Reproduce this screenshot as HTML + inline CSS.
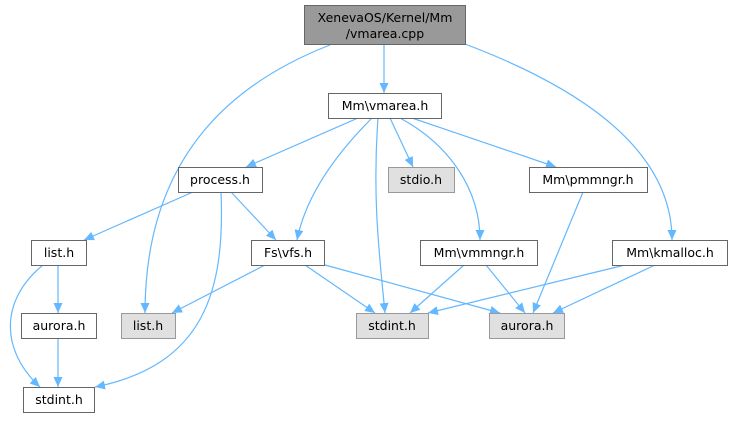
<!DOCTYPE html>
<html><head><meta charset="utf-8"><style>
body{margin:0;background:#fff;width:732px;height:417px;overflow:hidden}
text{font-family:"DejaVu Sans","Liberation Sans",sans-serif;font-size:12.5px;fill:#000}
</style></head><body>
<svg width="732" height="417" viewBox="0 0 732 417" xmlns="http://www.w3.org/2000/svg">
<defs><marker id="a" viewBox="0 0 10 10" refX="10" refY="5" markerWidth="10" markerHeight="10" markerUnits="userSpaceOnUse" orient="auto"><path d="M0,0.5 L10,5 L0,9.5z" fill="#63b8ff"/></marker></defs>
<g fill="none" stroke="#63b8ff" stroke-width="1.2" marker-end="url(#a)">
<path d="M384,45 L384,93"/>
<path d="M330,45 C240,80 145,150 145,313"/>
<path d="M465,44 C560,80 672,140 672,240"/>
<path d="M358,118 L246,167"/>
<path d="M372,118 C330,160 305,200 297,240"/>
<path d="M378,118 C372,200 380,260 385,313"/>
<path d="M390,118 L413,167"/>
<path d="M400,118 C450,145 480,190 480,240"/>
<path d="M412,118 L556,167"/>
<path d="M193,192 L84,240"/>
<path d="M231,192 L276,240"/>
<path d="M221,192 C225,290 205,365 95,387"/>
<path d="M43,265 C0,300 0,350 40,387"/>
<path d="M58,265 L58,313"/>
<path d="M58,338 L58,387"/>
<path d="M265,265 L172,313"/>
<path d="M305,265 L375,313"/>
<path d="M325,265 L500,313"/>
<path d="M464,265 L410,313"/>
<path d="M486,265 L525,313"/>
<path d="M583,192 L533,313"/>
<path d="M625,265 L428,313"/>
<path d="M655,265 L553,313"/>
</g>
<g stroke-width="1">
<rect x="304.5" y="5.5" width="161" height="39" fill="#999" stroke="#666"/>
<rect x="328.5" y="93.5" width="113" height="25" fill="#fff" stroke="#666"/>
<rect x="178.5" y="167.5" width="84" height="25" fill="#fff" stroke="#666"/>
<rect x="388.5" y="167.5" width="66" height="25" fill="#e0e0e0" stroke="#999"/>
<rect x="529.5" y="167.5" width="118" height="25" fill="#fff" stroke="#666"/>
<rect x="31.5" y="240.5" width="55" height="25" fill="#fff" stroke="#666"/>
<rect x="251.5" y="240.5" width="73" height="25" fill="#fff" stroke="#666"/>
<rect x="420.5" y="240.5" width="117" height="25" fill="#fff" stroke="#666"/>
<rect x="612.5" y="240.5" width="115" height="25" fill="#fff" stroke="#666"/>
<rect x="21.5" y="313.5" width="75" height="25" fill="#fff" stroke="#666"/>
<rect x="121.5" y="313.5" width="54" height="25" fill="#e0e0e0" stroke="#999"/>
<rect x="356.5" y="313.5" width="72" height="25" fill="#e0e0e0" stroke="#999"/>
<rect x="489.5" y="313.5" width="75" height="25" fill="#e0e0e0" stroke="#999"/>
<rect x="23.5" y="387.5" width="71" height="25" fill="#fff" stroke="#666"/>
</g>
<g text-anchor="middle">
<text x="385" y="22">XenevaOS/Kernel/Mm</text>
<text x="385" y="38">/vmarea.cpp</text>
<text x="385" y="110">Mm\vmarea.h</text>
<text x="220" y="184">process.h</text>
<text x="421" y="184">stdio.h</text>
<text x="588" y="184">Mm\pmmngr.h</text>
<text x="59" y="257">list.h</text>
<text x="288" y="257">Fs\vfs.h</text>
<text x="479" y="257">Mm\vmmngr.h</text>
<text x="670" y="257">Mm\kmalloc.h</text>
<text x="59" y="330">aurora.h</text>
<text x="148" y="330">list.h</text>
<text x="392" y="330">stdint.h</text>
<text x="527" y="330">aurora.h</text>
<text x="59" y="404">stdint.h</text>
</g>
</svg>
</body></html>
